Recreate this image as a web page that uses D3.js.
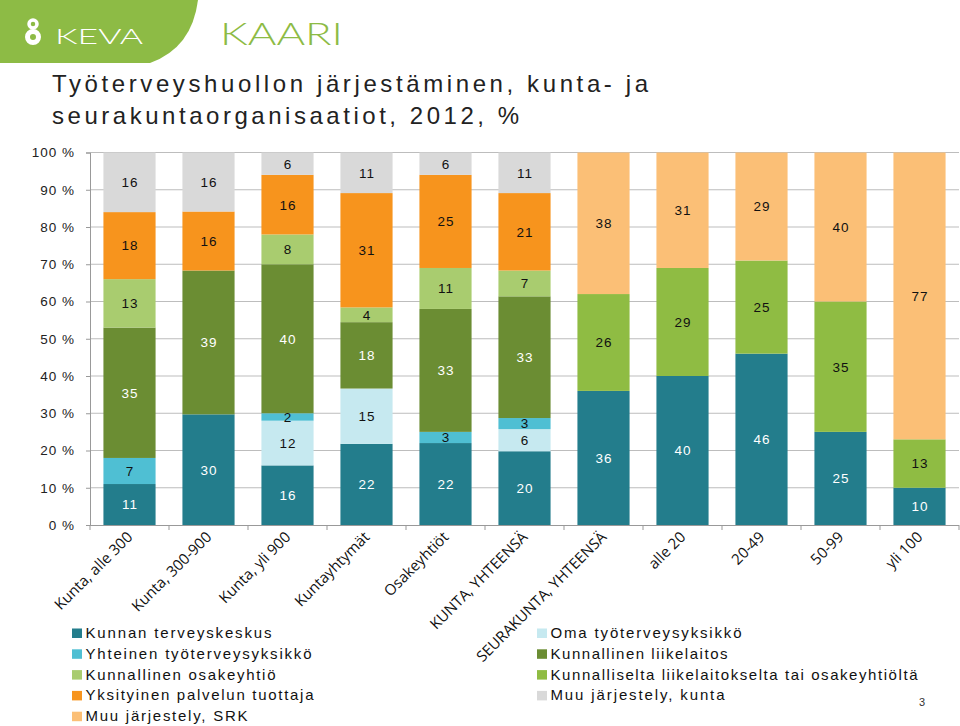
<!DOCTYPE html>
<html>
<head>
<meta charset="utf-8">
<script src="https://cdn.jsdelivr.net/npm/d3@7"></script>
<style>
  html, body { margin: 0; padding: 0; background: #fff; }
  svg { display: block; }
</style>
</head>
<body>
<div id="chart"></div>
<script>
// ---------------- DATA ----------------
const categories = ["Kunta, alle 300", "Kunta, 300-900", "Kunta, yli 900", "Kuntayhtymät", "Osakeyhtiöt",
  "KUNTA, YHTEENSÄ", "SEURAKUNTA, YHTEENSÄ", "alle 20", "20-49", "50-99", "yli 100"];

const seriesNames = ["Kunnan terveyskeskus", "Oma työterveysyksikkö", "Yhteinen työterveysyksikkö",
  "Kunnallinen liikelaitos", "Kunnallinen osakeyhtiö", "Kunnalliselta liikelaitokselta tai osakeyhtiöltä",
  "Yksityinen palvelun tuottaja", "Muu järjestely, kunta", "Muu järjestely, SRK"];

const kunnanTerveyskeskus   = [11, 30, 16, 22, 22, 20, 36, 40, 46, 25, 10];
const omaYksikko            = [0, 0, 12, 15, 0, 6, 0, 0, 0, 0, 0];
const yhteinenYksikko       = [7, 0, 2, 0, 3, 3, 0, 0, 0, 0, 0];
const kunnallinenLiikelaitos= [35, 39, 40, 18, 33, 33, 0, 0, 0, 0, 0];
const kunnallinenOsakeyhtio = [13, 0, 8, 4, 11, 7, 0, 0, 0, 0, 0];
const kunnalliselta         = [0, 0, 0, 0, 0, 0, 26, 29, 25, 35, 13];
const yksityinen            = [18, 16, 16, 31, 25, 21, 0, 0, 0, 0, 0];
const muuKunta              = [16, 16, 6, 11, 6, 11, 0, 0, 0, 0, 0];
const muuSRK                = [0, 0, 0, 0, 0, 0, 38, 31, 29, 40, 77];

const yTicks = [0, 0.1, 0.2, 0.3, 0.4, 0.5, 0.6, 0.7, 0.8, 0.9, 1.0];

const seriesValues = [kunnanTerveyskeskus, omaYksikko, yhteinenYksikko, kunnallinenLiikelaitos,
  kunnallinenOsakeyhtio, kunnalliselta, yksityinen, muuKunta, muuSRK];
const colors = ["#237d8c", "#c6e9f0", "#4fbfd3", "#6b8d33", "#a9cc6f", "#8fbc43", "#f7941d", "#d9d9d9", "#fbbf76"];
const labelColors = ["#fff", "#111", "#111", "#fff", "#111", "#111", "#111", "#111", "#111"];

// ---------------- SETUP ----------------
const W = 960, H = 726;
const svg = d3.select("#chart").append("svg").attr("width", W).attr("height", H);
const FONT = "'Liberation Sans', Arial, sans-serif";

// Logo area
svg.append("path")
  .attr("d", "M0,0 H198 Q192,48 150,63 H0 Z")
  .attr("fill", "#8dbb45");
const icon = svg.append("g").attr("fill", "none").attr("stroke", "#fff");
icon.append("circle").attr("cx", 33).attr("cy", 24).attr("r", 4).attr("stroke-width", 3.5);
icon.append("circle").attr("cx", 33).attr("cy", 37).attr("r", 5.5).attr("stroke-width", 5);
svg.append("text").attr("x", 55).attr("y", 44).text("KEVA")
  .attr("font-family", "Lato, sans-serif").attr("font-size", 22).attr("font-weight", 300)
  .attr("fill", "#fff").attr("textLength", 88).attr("lengthAdjust", "spacingAndGlyphs");
svg.append("text").attr("x", 220).attr("y", 45).text("KAARI")
  .attr("font-family", "Lato, sans-serif").attr("font-size", 31).attr("font-weight", 300)
  .attr("fill", "#8dbb45").attr("textLength", 123).attr("lengthAdjust", "spacingAndGlyphs");

// Title
const titleLines = ["Työterveyshuollon järjestäminen, kunta- ja", "seurakuntaorganisaatiot, 2012, %"];
const titleWidths = [596, 467];
titleLines.forEach((t, i) => {
  svg.append("text").attr("x", 52).attr("y", 92 + i * 32).text(t)
    .attr("font-family", FONT).attr("font-size", 24).attr("fill", "#222")
    .attr("textLength", titleWidths[i]).attr("lengthAdjust", "spacing");
});

// ---------------- CHART ----------------
const x0 = 90, x1 = 959, yTop = 152.5, yBot = 525;
const x = d3.scaleBand().domain(categories).range([x0, x1]).paddingInner(0.34).paddingOuter(0.17);
const y = d3.scaleLinear().domain([0, 1]).range([yBot, yTop]);

const rows = categories.map((c, i) => {
  const r = { cat: c };
  seriesNames.forEach((s, j) => r[s] = seriesValues[j][i]);
  return r;
});
const stack = d3.stack().keys(seriesNames).order(d3.stackOrderNone).offset(d3.stackOffsetExpand);
const stacked = stack(rows);

// gridlines
svg.append("g").selectAll("line").data(yTicks.filter(d => d > 0)).join("line")
  .attr("x1", x0).attr("x2", x1).attr("y1", d => y(d)).attr("y2", d => y(d))
  .attr("stroke", "#bdbdbd").attr("stroke-width", 1);

// bars
const layers = svg.append("g").selectAll("g").data(stacked).join("g")
  .attr("fill", (d, i) => colors[i]);
layers.selectAll("rect").data(d => d.filter(p => p.data[d.key] > 0)).join("rect")
  .attr("x", d => x(d.data.cat))
  .attr("width", x.bandwidth())
  .attr("y", d => y(d[1]))
  .attr("height", d => y(d[0]) - y(d[1]));

// value labels
stacked.forEach((layer, i) => {
  svg.append("g").selectAll("text").data(layer.filter(p => p.data[layer.key] > 0)).join("text")
    .attr("x", d => x(d.data.cat) + x.bandwidth() / 2 + 0.5)
    .attr("y", d => (y(d[0]) + y(d[1])) / 2)
    .attr("dy", "0.36em")
    .attr("text-anchor", "middle")
    .attr("font-family", FONT).attr("font-size", 13.5).attr("letter-spacing", 1)
    .attr("fill", labelColors[i])
    .text(d => d.data[layer.key]);
});

// y axis
const yAxis = svg.append("g").attr("transform", `translate(${x0},0)`)
  .call(d3.axisLeft(y).tickValues(yTicks).tickFormat(d => Math.round(d * 100) + " %").tickSize(4).tickPadding(11));
yAxis.select(".domain").attr("stroke", "#999");
yAxis.selectAll(".tick line").attr("stroke", "#999");
yAxis.selectAll(".tick text").attr("font-family", FONT).attr("font-size", 13.5)
  .attr("letter-spacing", 1).attr("fill", "#222");

// x axis
svg.append("line").attr("x1", x0).attr("x2", x1).attr("y1", yBot + 0.5).attr("y2", yBot + 0.5)
  .attr("stroke", "#999");
const boundaries = d3.range(categories.length + 1).map(i => x0 + i * (x1 - x0) / categories.length);
svg.append("g").selectAll("line").data(boundaries).join("line")
  .attr("x1", d => d).attr("x2", d => d).attr("y1", yBot).attr("y2", yBot + 5)
  .attr("stroke", "#999");

svg.append("g").selectAll("text").data(categories).join("text")
  .attr("transform", d => `translate(${x(d) + x.bandwidth() / 2 + 4},${yBot + 13}) rotate(-45)`)
  .attr("text-anchor", "end")
  .attr("font-family", "'Open Sans', sans-serif").attr("font-size", 15).attr("fill", "#111")
  .text(d => d);

// legend
const legendPos = [
  [0, 0], [1, 0], [0, 1], [1, 1], [0, 2], [1, 2], [0, 3], [1, 3], [0, 4]
];
const legendWidths = [186, 191, 226, 177, 190, 367, 228, 174, 162];
const colX = [72, 537];
seriesNames.forEach((s, i) => {
  const [c, r] = legendPos[i];
  const by = 638 + r * 20.8;
  const g = svg.append("g");
  g.append("rect").attr("x", colX[c]).attr("y", by - 9.5).attr("width", 10).attr("height", 9.5)
    .attr("fill", colors[i]);
  g.append("text").attr("x", colX[c] + 13.5).attr("y", by).text(s)
    .attr("font-family", FONT).attr("font-size", 15).attr("fill", "#111")
    .attr("textLength", legendWidths[i]).attr("lengthAdjust", "spacing");
});

// page number
svg.append("text").attr("x", 922).attr("y", 706).attr("text-anchor", "middle").text("3")
  .attr("font-family", FONT).attr("font-size", 11).attr("fill", "#333");
</script>
</body>
</html>
